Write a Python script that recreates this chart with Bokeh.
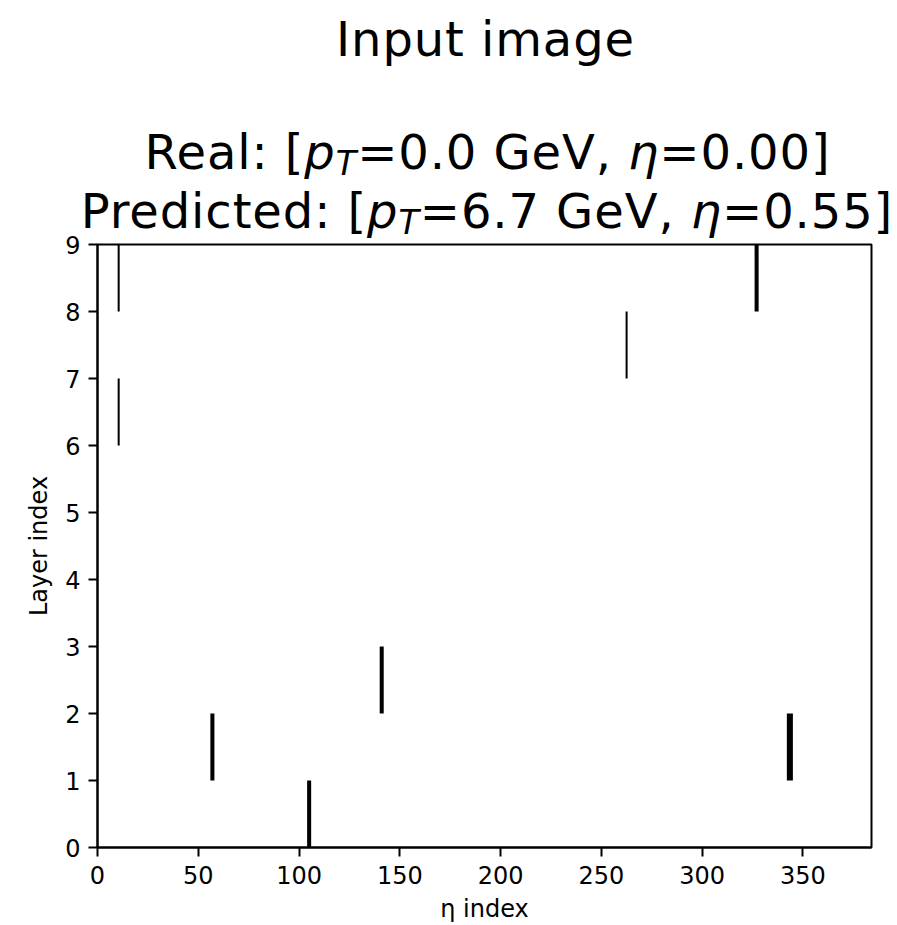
from bokeh.plotting import figure
from bokeh.layouts import column
from bokeh.models import FixedTicker, Range1d, Div
from bokeh.embed import file_html
from bokeh.resources import INLINE

# ---------------- data ----------------
layer_index = [8, 6, 7, 8, 1, 0, 2, 1]
eta_start = [10, 10, 262, 326, 56, 104, 140, 342]
eta_width = [1, 1, 1, 2, 2, 2, 2, 3]
n_eta = 384
n_layer = 9
x_tick_values = [0, 50, 100, 150, 200, 250, 300, 350]
y_tick_values = [0, 1, 2, 3, 4, 5, 6, 7, 8, 9]

title_main = "Input image"
real_pt, real_eta = "0.0", "0.00"
pred_pt, pred_eta = "6.7", "0.55"
x_label = "η index"
y_label = "Layer index"

# ---------------- layout constants ----------------
W = 897
TITLE_H = 244
OVERLAP = 14
FRAME_L = 97
FRAME_W, FRAME_H = 774, 603
FONT = "DejaVu Sans"
TITLE_PX = 48

# ---------------- main plot ----------------
p = figure(frame_width=FRAME_W, frame_height=FRAME_H,
           min_border_left=FRAME_L, min_border_right=W - FRAME_L - FRAME_W,
           min_border_top=OVERLAP, min_border_bottom=78,
           x_range=Range1d(0, n_eta), y_range=Range1d(0, n_layer),
           output_backend="svg", toolbar_location=None, tools="")
p.margin = (-OVERLAP, 0, 0, 0)
p.background_fill_color = "white"
p.border_fill_color = None
p.border_fill_alpha = 0
p.xgrid.visible = False
p.ygrid.visible = False
p.outline_line_color = "black"
p.outline_line_width = 2

p.quad(left=eta_start,
       right=[s + w for s, w in zip(eta_start, eta_width)],
       bottom=layer_index,
       top=[l + 1 for l in layer_index],
       fill_color="black", line_color=None)

for ax, ticks, lab in ((p.xaxis, x_tick_values, x_label), (p.yaxis, y_tick_values, y_label)):
    ax.ticker = FixedTicker(ticks=ticks)
    ax.minor_tick_line_color = None
    ax.major_tick_in = 0
    ax.major_tick_out = 9
    ax.major_tick_line_width = 2
    ax.major_tick_line_color = "black"
    ax.axis_line_width = 2
    ax.axis_line_color = "black"
    ax.major_label_text_font = FONT
    ax.major_label_text_font_size = "24px"
    ax.major_label_text_color = "black"
    ax.axis_label = lab
    ax.axis_label_text_font = FONT
    ax.axis_label_text_font_size = "24px"
    ax.axis_label_text_font_style = "normal"
    ax.axis_label_text_color = "black"
p.xaxis.major_label_standoff = 9
p.yaxis.major_label_standoff = 8
p.xaxis.axis_label_standoff = 8
p.yaxis.axis_label_standoff = 9

# ---------------- title block (real HTML text, mixed styles) ----------------
ASCENT = 0.928   # DejaVu Sans
DESCENT = 0.236


def line_top(baseline):
    half_leading = (TITLE_PX - (ASCENT + DESCENT) * TITLE_PX) / 2.0
    return baseline - (half_leading + ASCENT * TITLE_PX)


def line_html(content, baseline, left):
    return (f'<div style="position:absolute;left:{left}px;right:0;top:{line_top(baseline):.1f}px;'
            f'text-align:center;white-space:nowrap;letter-spacing:0.9px;'
            f'line-height:{TITLE_PX}px;">{content}</div>')


def info(prefix, pt, eta):
    return (f'{prefix}: [<span style="font-style:italic">p</span>'
            f'<span style="display:inline-block;font-style:italic;font-size:0.7em;'
            f'line-height:22px;vertical-align:-6px">T</span>'
            f'={pt} GeV, <span style="font-style:italic">η</span>={eta}]')


html = (f'<div style="position:relative;width:{W}px;height:{TITLE_H}px;'
        f'font-family:\'{FONT}\';font-size:{TITLE_PX}px;color:black;">'
        + line_html(title_main, 56, 74)
        + line_html(info("Real", real_pt, real_eta), 169, 78)
        + line_html(info("Predicted", pred_pt, pred_eta), 228, 77)
        + '</div>')

title_div = Div(text=html, width=W, height=TITLE_H, margin=(0, 0, 0, 0))

layout = column(title_div, p, spacing=0)
open("out.html", "w").write(file_html(layout, INLINE))
